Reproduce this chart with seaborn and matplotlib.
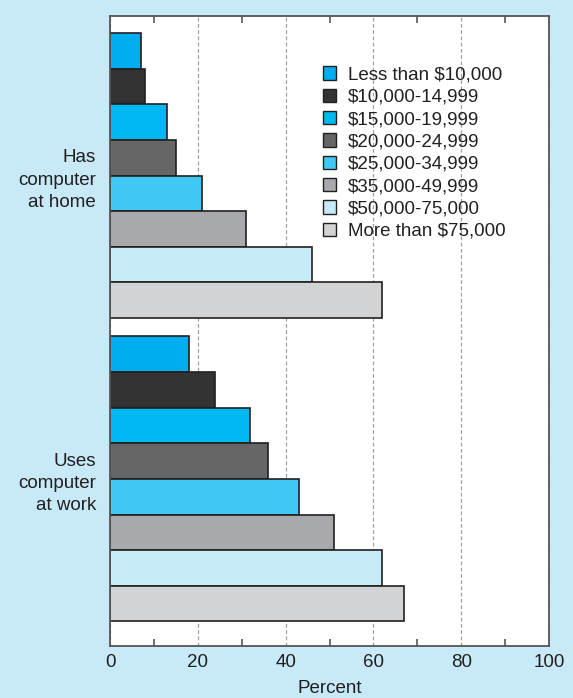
import matplotlib
matplotlib.use("Agg")
import matplotlib.pyplot as plt
import seaborn as sns
import pandas as pd

activities = ["Has\ncomputer\nat home", "Uses\ncomputer\nat work"]
incomes = ["Less than $10,000", "$10,000-14,999", "$15,000-19,999", "$20,000-24,999",
           "$25,000-34,999", "$35,000-49,999", "$50,000-75,000", "More than $75,000"]
home_values = [7, 8, 13, 15, 21, 31, 46, 62]
work_values = [18, 24, 32, 36, 43, 51, 62, 67]
colors = ["#00aeef", "#333333", "#00b9f2", "#666666", "#40c8f4", "#a7a9ac", "#c7eaf9", "#d1d3d4"]
x_ticks = [0, 20, 40, 60, 80, 100]

rows = []
for act, vals in zip(activities, [home_values, work_values]):
    for inc, v in zip(incomes, vals):
        rows.append({"activity": act, "income": inc, "percent": v})
df = pd.DataFrame(rows)

sns.set_style("white")
plt.rcParams["font.family"] = ["Liberation Sans", "DejaVu Sans"]
plt.rcParams["text.color"] = "#231f20"

FS = 13.5
bg = "#c7e9f8"
fig = plt.figure(figsize=(5.73, 6.98), dpi=100, facecolor=bg)
ax = fig.add_axes([110 / 573, (698 - 646) / 698, 439 / 573, 630 / 698])
ax.set_facecolor("white")

sns.barplot(data=df, y="activity", x="percent", hue="income", order=activities,
            hue_order=incomes, palette=colors, orient="h", width=0.94,
            saturation=1, edgecolor="#231f20", linewidth=1.2, errorbar=None, ax=ax)

ax.set_xlim(0, 100)
ax.set_ylim(1.551, -0.526)
ax.set_xticks(x_ticks)
ax.set_xticklabels([str(t) for t in x_ticks], fontsize=FS, color="#231f20")
ax.set_xticks([10, 30, 50, 70, 90], minor=True)
ax.tick_params(axis="x", which="major", length=0, pad=6)
ax.tick_params(axis="x", which="minor", direction="in", length=5, width=1.2,
               color="#555555", top=True, bottom=True)
ax.set_yticks([0, 1], labels=activities, fontsize=FS, color="#231f20",
              ha="right", multialignment="right", linespacing=1.4)
ax.tick_params(axis="y", length=0, pad=10)

ax.xaxis.grid(True, which="major", linestyle=(0, (3, 2)), color="#a0a0a0", linewidth=0.9)
ax.set_axisbelow(True)
for s in ax.spines.values():
    s.set_visible(True)
    s.set_color("#555555")
    s.set_linewidth(1.3)

ax.set_xlabel("Percent", fontsize=FS, labelpad=6.5, color="#231f20")
ax.set_ylabel("")

handles, labels = ax.get_legend_handles_labels()
if ax.get_legend() is not None:
    ax.get_legend().remove()
leg = ax.legend(handles, labels, loc="upper left", bbox_to_anchor=(0.485, 0.92),
                frameon=False, fontsize=FS, handlelength=0.72, handleheight=0.72,
                handletextpad=0.6, labelspacing=0.27, borderpad=0, borderaxespad=0)
for h in leg.legend_handles:
    h.set_edgecolor("#231f20")
    h.set_linewidth(1.0)

fig.savefig("out.png", dpi=100, facecolor=bg)
